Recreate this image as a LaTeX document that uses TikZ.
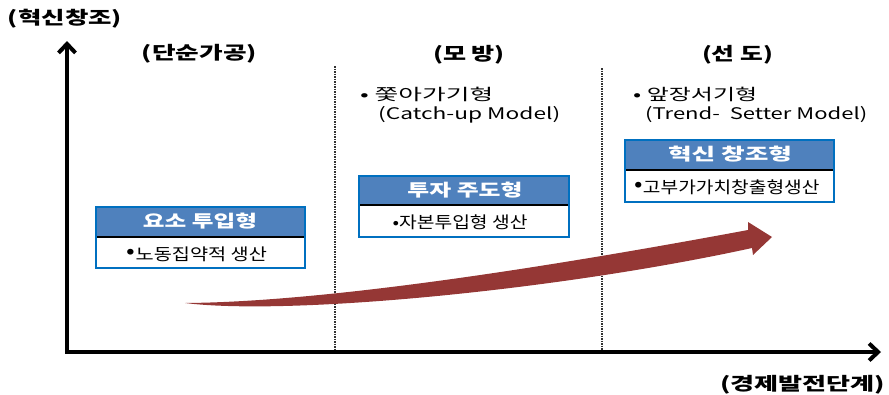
\documentclass[tikz,border=0pt]{standalone}
\usepackage{fontspec}
\usepackage{graphicx}
\usetikzlibrary{arrows.meta}
\setmainfont{Noto Sans CJK KR}
\definecolor{hdr}{RGB}{79,129,189}
\definecolor{bdr}{RGB}{0,112,192}
\definecolor{arr}{RGB}{149,55,53}
\definecolor{dashc}{RGB}{50,50,50}
\newcommand\hx[2]{\resizebox{#1}{\height}{#2}}
\newcommand\bul{\raisebox{0.1em}{\scalebox{1.3}{•}}}
\begin{document}
\begin{tikzpicture}[x=1pt,y=-1pt,
  heading/.style={font=\bfseries\fontsize{18}{20}\selectfont, inner sep=0pt, anchor=center},
  hdrtxt/.style={font=\bfseries\fontsize{17}{19}\selectfont, text=white, inner sep=0pt},
  hdrbox/.style={fill=hdr, draw=none, inner sep=0pt, minimum height=30pt},
  bodybox/.style={fill=white, draw=none, inner sep=0pt, minimum height=31pt},
  bodytxt/.style={font=\fontsize{16.5}{18}\selectfont, inner sep=0pt},
  itemtxt/.style={font=\fontsize{16}{18}\selectfont, inner sep=0pt, anchor=west},
  frame/.style={draw=bdr, line width=2.5pt},
  sepline/.style={draw=black, line width=1.8pt},
  axis/.style={line width=4pt, line join=miter, {Straight Barb[length=9pt,width=17pt]}-{Straight Barb[length=9pt,width=17pt]}},
  stage/.style={draw=dashc, line width=1.1pt, dash pattern=on 1.5pt off 1pt}
]
\path[use as bounding box] (0,0) rectangle (889,394);

% stage separators
\draw[stage] (335,66) -- (335,350);
\draw[stage] (602,68) -- (602,350);

% axes
\coordinate (O) at (67,352);
\coordinate (Y) at (67,41);
\coordinate (X) at (881,352);
\draw[axis] (Y) -- (O) -- (X);

% axis labels and headings
\node[heading] (h0) at (65,19) {\hx{114pt}{(혁신창조)}};
\node[heading] (h1) at (199.5,54) {\hx{115pt}{(단순가공)}};
\node[heading] (h2) at (469,55) {\hx{72pt}{(모 방)}};
\node[heading] (h3) at (737.5,55) {\hx{71pt}{(선 도)}};
\node[heading] (xl) at (802.5,385) {\hx{165pt}{(경제발전단계)}};

% bullet descriptions
\node[itemtxt] (m1) at (360,94) {\hx{133pt}{•\ 쫓아가기형}};
\node[itemtxt] (m2) at (378,115) {\hx{182pt}{(Catch-up Model)}};
\node[itemtxt] (s1) at (633,94) {\hx{124pt}{•\ 앞장서기형}};
\node[itemtxt] (s2) at (645,115) {\hx{222pt}{(Trend-\ \ Setter Model)}};

% growth arrow
\fill[arr] (185,303) .. controls (330,302) and (560,265) .. (748,230)
  -- (748,222) -- (772,237) -- (753,255) -- (752,248)
  .. controls (560,290) and (290,316) .. (185,303) -- cycle;

% box 1
\node[hdrbox, minimum width=209pt] (b1h) at (200.5,222) {};
\node[bodybox, minimum width=209pt] (b1b) at (200.5,252.5) {};
\node[hdrtxt] (b1ht) at (200,221) {\hx{114pt}{요소 투입형}};
\node[bodytxt] (b1bt) at (197,254) {\hx{140pt}{\bul 노동집약적 생산}};
\draw[sepline] (b1h.south west) -- (b1h.south east);
\draw[frame] (b1h.north west) rectangle (b1b.south east);

% box 2
\node[hdrbox, minimum width=210pt, minimum height=29pt] (b2h) at (464,190.5) {};
\node[bodybox, minimum width=210pt, minimum height=32pt] (b2b) at (464,221) {};
\node[hdrtxt] (b2ht) at (465,190) {\hx{115pt}{투자 주도형}};
\node[bodytxt] (b2bt) at (460,222.5) {\hx{135pt}{•자본투입형 생산}};
\draw[sepline] (b2h.south west) -- (b2h.south east);
\draw[frame] (b2h.north west) rectangle (b2b.south east);

% box 3
\node[hdrbox, minimum width=209pt] (b3h) at (729.5,155) {};
\node[bodybox, minimum width=209pt, minimum height=32pt] (b3b) at (729.5,186) {};
\node[hdrtxt] (b3ht) at (730,154) {\hx{124pt}{혁신 창조형}};
\node[bodytxt] (b3bt) at (727,187) {\hx{185pt}{\bul 고부가가치창출형생산}};
\draw[sepline] (b3h.south west) -- (b3h.south east);
\draw[frame] (b3h.north west) rectangle (b3b.south east);
\end{tikzpicture}
\end{document}
